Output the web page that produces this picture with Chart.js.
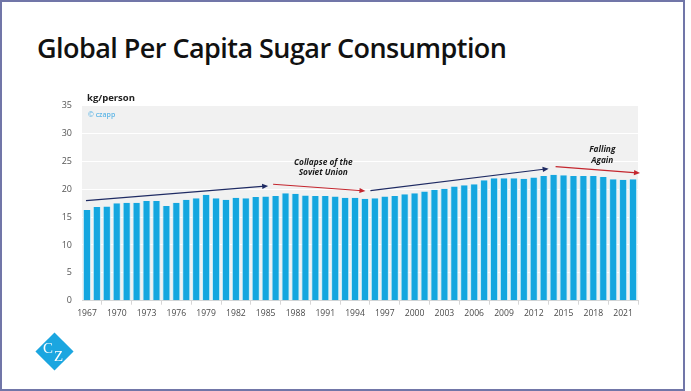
<!DOCTYPE html>
<html>
<head>
<meta charset="utf-8">
<script src="https://cdn.jsdelivr.net/npm/chart.js@4.4.1/dist/chart.umd.min.js"></script>
<style>
  html, body { margin: 0; padding: 0; background: #ffffff; }
  body { width: 691px; height: 391px; position: relative; overflow: hidden; }
  #frame { position: absolute; left: 0; top: 0; width: 681px; height: 387px; border: 2px solid #7176a8; box-sizing: content-box; }
  #title { position: absolute; left: 37px; top: 29px; font-family: "Open Sans", sans-serif; font-weight: 600; font-size: 27px; color: #111; white-space: nowrap; letter-spacing: -0.55px; }
  #unit { position: absolute; left: 87px; top: 91px; font-family: "Open Sans", sans-serif; font-weight: 700; font-size: 9.5px; color: #222; }
  #copy { position: absolute; left: 88px; top: 110px; font-family: "Open Sans", sans-serif; font-weight: 600; font-size: 7px; color: #5fb6e6; }
  #logo { position: absolute; left: 41px; top: 338px; width: 27px; height: 27px; background: #1ba6e0; transform: rotate(45deg); }
  .lg { position: absolute; font-family: "Liberation Serif", "DejaVu Serif", serif; color: #fff; font-size: 15px; line-height: 15px; }
  canvas { position: absolute; left: 0; top: 0; }
</style>
</head>
<body>
<div id="frame"></div>
<div id="title">Global Per Capita Sugar Consumption</div>
<canvas id="c" width="691" height="391"></canvas>
<div id="unit">kg/person</div>
<div id="copy">© czapp</div>
<div id="logo"></div>
<div class="lg" style="left:43px;top:341px;">C</div>
<div class="lg" style="left:54px;top:349px;">Z</div>
<script>
const years = [];
for (let y = 1967; y <= 2022; y++) years.push(String(y));

const consumption = [
  16.3, 16.8, 16.9, 17.5, 17.6, 17.6, 17.9, 17.9, 17.0, 17.6,
  18.1, 18.4, 19.0, 18.4, 18.1, 18.5, 18.4, 18.6, 18.7, 18.8,
  19.3, 19.2, 18.9, 18.8, 18.8, 18.7, 18.5, 18.5, 18.3, 18.4,
  18.7, 18.8, 19.1, 19.3, 19.6, 19.9, 20.1, 20.5, 20.7, 20.9,
  21.6, 22.0, 22.0, 22.0, 21.9, 22.1, 22.4, 22.6, 22.5, 22.4,
  22.4, 22.4, 22.2, 21.8, 21.7, 21.8
];

const yTicks = [0, 5, 10, 15, 20, 25, 30, 35];

// trend arrows in data space: [x index, value] -> [x index, value]
const arrowFrom = [[-0.1, 17.95], [18.75, 20.9], [28.55, 19.75], [47.2, 24.05]];
const arrowTo   = [[18.25, 20.6], [28.05, 19.7], [46.5, 23.7], [55.7, 22.9]];
const arrowColors = ['#1f2b63', '#c4262e', '#1f2b63', '#c4262e'];

const noteLines = [['Collapse of the', 'Soviet Union'], ['Falling', 'Again']];
const noteAt = [[23.8, 24.7, 22.9], [51.9, 27.1, 25.2]];

const bgPlugin = {
  id: 'plotBg',
  beforeDraw(chart) {
    const a = chart.chartArea, ctx = chart.ctx;
    ctx.save();
    ctx.fillStyle = '#f1f1f1';
    ctx.fillRect(a.left, a.top, a.right - a.left, a.bottom - a.top);
    ctx.restore();
  }
};

const annoPlugin = {
  id: 'anno',
  afterDatasetsDraw(chart) {
    const ctx = chart.ctx, xs = chart.scales.x, ys = chart.scales.y;
    ctx.save();
    for (let i = 0; i < arrowFrom.length; i++) {
      const x0 = xs.getPixelForValue(arrowFrom[i][0]), y0 = ys.getPixelForValue(arrowFrom[i][1]);
      const x1 = xs.getPixelForValue(arrowTo[i][0]), y1 = ys.getPixelForValue(arrowTo[i][1]);
      const ang = Math.atan2(y1 - y0, x1 - x0);
      ctx.strokeStyle = arrowColors[i];
      ctx.fillStyle = arrowColors[i];
      ctx.lineWidth = 1.2;
      ctx.beginPath();
      ctx.moveTo(x0, y0);
      ctx.lineTo(x1 - 3 * Math.cos(ang), y1 - 3 * Math.sin(ang));
      ctx.stroke();
      const L = 6, W = 2.6;
      ctx.beginPath();
      ctx.moveTo(x1, y1);
      ctx.lineTo(x1 - L * Math.cos(ang) + W * Math.sin(ang), y1 - L * Math.sin(ang) - W * Math.cos(ang));
      ctx.lineTo(x1 - L * Math.cos(ang) - W * Math.sin(ang), y1 - L * Math.sin(ang) + W * Math.cos(ang));
      ctx.closePath();
      ctx.fill();
    }
    ctx.fillStyle = '#1a1a1a';
    ctx.font = 'italic 700 8.3px "Open Sans", sans-serif';
    ctx.textAlign = 'center';
    ctx.textBaseline = 'middle';
    for (let i = 0; i < noteLines.length; i++) {
      const x = xs.getPixelForValue(noteAt[i][0]);
      for (let j = 0; j < noteLines[i].length; j++) {
        ctx.fillText(noteLines[i][j], x, ys.getPixelForValue(noteAt[i][j + 1]));
      }
    }
    ctx.restore();
  }
};

new Chart(document.getElementById('c'), {
  type: 'bar',
  data: {
    labels: years,
    datasets: [{
      data: consumption,
      backgroundColor: '#14a6df',
      borderColor: '#c9eef9',
      borderWidth: { left: 1, right: 1, top: 0, bottom: 0 },
      borderSkipped: false,
      categoryPercentage: 1.0,
      barPercentage: 0.82
    }]
  },
  options: {
    responsive: false,
    animation: false,
    events: [],
    layout: { padding: { left: 0, right: 53, top: 105.7, bottom: 66 } },
    plugins: { legend: { display: false }, tooltip: { enabled: false } },
    scales: {
      x: {
        afterFit(s) { s.height = 24.3; },
        grid: { display: true, drawOnChartArea: false, drawTicks: true, tickLength: 4, color: '#d6d6d6' },
        border: { display: true, color: '#d6d6d6' },
        ticks: {
          autoSkip: false, maxRotation: 0, minRotation: 0, padding: 4,
          color: '#4a4a4a', font: { family: '"Open Sans", sans-serif', size: 8.6 },
          callback(v, i) { return i % 3 === 0 ? years[i] : null; }
        }
      },
      y: {
        min: 0, max: 35,
        afterFit(s) { s.width = 82; },
        afterBuildTicks(s) { s.ticks = yTicks.map(v => ({ value: v })); },
        grid: { color: '#ffffff', lineWidth: 1, drawTicks: false },
        border: { display: false },
        ticks: { padding: 10, color: '#555555', font: { family: '"Open Sans", sans-serif', size: 9 } }
      }
    }
  },
  plugins: [bgPlugin, annoPlugin]
});
</script>
</body>
</html>
